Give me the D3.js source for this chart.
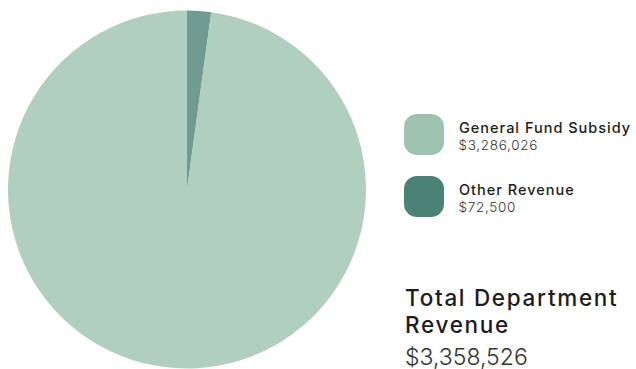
<!DOCTYPE html>
<html>
<head>
<meta charset="utf-8">
<script src="https://cdn.jsdelivr.net/npm/d3@7"></script>
<style>
  html, body { margin: 0; padding: 0; background: #ffffff; }
  svg { display: block; font-family: Inter, "Noto Sans", sans-serif; }
</style>
</head>
<body>
<svg id="chart" width="636" height="369"></svg>
<script>
// Revenue sources for the department
const categories = ["Other Revenue", "General Fund Subsidy"];
const values = [72500, 3286026];
const colors = ["#4b8276", "#9dc3ae"];
const legendOrder = ["General Fund Subsidy", "Other Revenue"];
const totalLabel = ["Total Department", "Revenue"];

const fmt = d3.format("$,");
const total = d3.sum(values);

const svg = d3.select("#chart");
const cx = 187, cy = 189.5, radius = 179;

const color = d3.scaleOrdinal().domain(categories).range(colors);

const pie = d3.pie().sort(null).value(d => d.value);
const arc = d3.arc().innerRadius(0).outerRadius(radius);

const data = categories.map((c, i) => ({ name: c, value: values[i] }));

svg.append("g")
  .attr("transform", `translate(${cx},${cy})`)
  .selectAll("path")
  .data(pie(data))
  .join("path")
  .attr("d", arc)
  .attr("fill", d => color(d.data.name))
  .attr("fill-opacity", 0.8);

// Legend
const legend = svg.append("g").attr("transform", "translate(404,114)");
const item = legend.selectAll("g")
  .data(legendOrder.map(n => data.find(d => d.name === n)))
  .join("g")
  .attr("transform", (d, i) => `translate(0,${i * 62})`);

item.append("rect")
  .attr("width", 40)
  .attr("height", 41)
  .attr("rx", 13)
  .attr("fill", d => color(d.name));

item.append("text")
  .attr("x", 55)
  .attr("y", 18.5)
  .attr("font-size", 14.5)
  .attr("font-weight", 500)
  .attr("letter-spacing", 1.0)
  .attr("fill", "#1c1c1c")
  .text(d => d.name);

item.append("text")
  .attr("x", 54.5)
  .attr("y", 35.5)
  .attr("font-size", 13.5)
  .attr("font-weight", 300)
  .attr("letter-spacing", 0.7)
  .attr("fill", "#333333")
  .text(d => fmt(d.value));

// Total
const tot = svg.append("g").attr("transform", "translate(405,0)");
tot.selectAll("text.title")
  .data(totalLabel)
  .join("text")
  .attr("class", "title")
  .attr("x", 0)
  .attr("y", (d, i) => 305.7 + i * 27.5)
  .attr("font-size", 22.5)
  .attr("font-weight", 500)
  .attr("letter-spacing", 1.7)
  .attr("fill", "#1c1c1c")
  .text(d => d);

tot.append("text")
  .attr("x", 0)
  .attr("y", 364.5)
  .attr("font-size", 23)
  .attr("font-weight", 300)
  .attr("fill", "#333333")
  .text(fmt(total));
</script>
</body>
</html>
